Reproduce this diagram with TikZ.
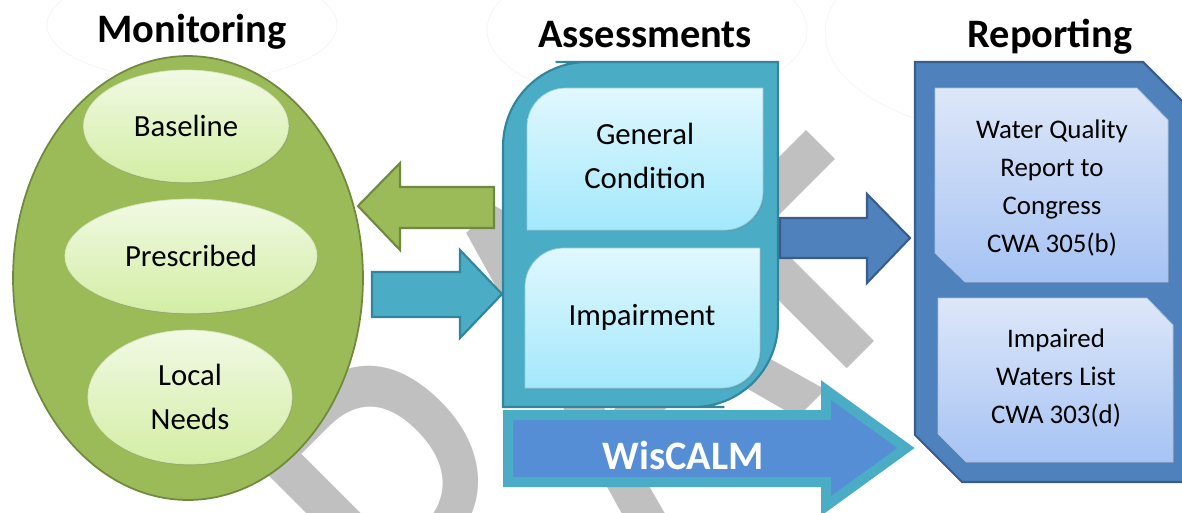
\documentclass[tikz,border=0pt]{standalone}
\usepackage{fontspec}
\setmainfont{Carlito}
\usetikzlibrary{shapes, calc, positioning, shadows}

\definecolor{mongreen}{HTML}{9BBB59}
\definecolor{mongreendark}{HTML}{71893F}
\definecolor{monlighttop}{HTML}{F1F9E4}
\definecolor{monlightbot}{HTML}{D3EEA4}
\definecolor{asmteal}{HTML}{4BACC6}
\definecolor{asmtealdark}{HTML}{31859C}
\definecolor{asmlighttop}{HTML}{E1F8FE}
\definecolor{asmlightbot}{HTML}{A3E8FC}
\definecolor{repblue}{HTML}{4F81BD}
\definecolor{repbluedark}{HTML}{385D8A}
\definecolor{replighttop}{HTML}{DDE7F8}
\definecolor{replightbot}{HTML}{A6C3F4}
\definecolor{wisblue}{HTML}{558ED5}
\definecolor{draftgray}{HTML}{C0C0C0}

\begin{document}
\begin{tikzpicture}[x=0.02cm, y=-0.02cm,
    title/.style={font=\fontsize{23}{26}\selectfont\bfseries, anchor=base},
    titlering/.style={fill=white, draw=black!4, line width=0.4pt},
    txt/.style={font=\fontsize{17.5}{25}\selectfont, align=center},
    reptxt/.style={font=\fontsize{15.3}{21.8}\selectfont, align=center},
    watermark/.style={text=draftgray, font=\fontsize{247}{247}\selectfont, inner sep=0pt},
    bigell/.style={ellipse, draw=mongreendark, fill=mongreen, line width=1pt, inner sep=0pt},
    smallell/.style={ellipse, draw=mongreen!40, top color=monlighttop, bottom color=monlightbot, inner sep=0pt, drop shadow={opacity=0.25, shadow xshift=0.6pt, shadow yshift=-0.8pt}},
    innerbox/.style={draw=asmteal!60, top color=asmlighttop, bottom color=asmlightbot, drop shadow={opacity=0.3, shadow xshift=0.6pt, shadow yshift=-0.8pt}},
    repbox/.style={draw=repblue!50, top color=replighttop, bottom color=replightbot, drop shadow={opacity=0.3, shadow xshift=0.6pt, shadow yshift=-0.8pt}},
    blockarrow/.style={line width=1.2pt, line join=miter},
    ]
    \useasboundingbox (0,0) rectangle (1182,512);
    \clip (0,0) rectangle (1182,512);

    % watermark, stretched along its height
    \begin{scope}[shift={(576.5,381.5)}, rotate=45, yscale=1.31, transform shape]
        \node[watermark] (draft) at (0,0) {DRAFT};
    \end{scope}

    % white rings behind the titles
    \draw[titlering] (192,25) ellipse (145 and 56);
    \draw[titlering] (647,30) ellipse (160 and 73);
    \draw[titlering] (1040,33) ellipse (215 and 105);

    % titles
    \node[title] (montitle) at (192,42) {Monitoring};
    \node[title] (asmtitle) at (645,47) {Assessments};
    \node[title] (reptitle) at (1050,47) {Reporting};

    % monitoring
    \node[bigell, minimum width=7cm, minimum height=8.88cm] (mon) at (188,278) {};
    \node[smallell, minimum width=4.1cm, minimum height=2.24cm, txt] (baseline) at (186,126) {Baseline};
    \node[smallell, minimum width=5.04cm, minimum height=2.28cm, txt] (prescribed) at (191,256) {Prescribed};
    \node[smallell, minimum width=4.08cm, minimum height=2.68cm, txt] (localneeds) at (190,397) {Local\\Needs};

    % assessments
    \draw[fill=asmteal, draw=asmtealdark, line width=1.2pt] (503,407) -- (503,250) [rounded corners=48] -- (503,62) -- (640,62) [sharp corners] -- (778,62) -- (778,250) [rounded corners=48] -- (778,407) -- (640,407) [sharp corners] -- cycle;
    \path[innerbox] (527,230) -- (527,160) [rounded corners=22] -- (527,88) -- (645,88) [sharp corners] -- (763,88) -- (763,160) [rounded corners=22] -- (763,230) -- (645,230) [sharp corners] -- cycle;
    \draw[innerbox] (525,388) -- (525,320) [rounded corners=22] -- (525,248) -- (642,248) [sharp corners] -- (760,248) -- (760,320) [rounded corners=22] -- (760,388) -- (642,388) [sharp corners] -- cycle;
    \node[txt] (general) at (645,156) {General\\Condition};
    \node[txt] (impairment) at (642,317) {Impairment};

    % reporting
    \draw[fill=repblue, draw=repbluedark, line width=1.2pt] (915,62) -- (1143,62) -- (1192,111) -- (1192,482) -- (962,482) -- (915,435) -- cycle;
    \draw[repbox] (935,88) -- (1137,88) -- (1168,120) -- (1168,282) -- (965,282) -- (935,253) -- cycle;
    \draw[repbox] (938,298) -- (1147,298) -- (1173,325) -- (1173,462) -- (966,462) -- (938,434) -- cycle;
    \node[reptxt] (report) at (1052,188) {Water Quality\\Report to\\Congress\\CWA 305(b)};
    \node[reptxt] (impaired) at (1056,378) {Impaired\\Waters List\\CWA 303(d)};

    % block arrows
    \draw[blockarrow, fill=mongreen, draw=mongreendark] (494,187) -- (400,187) -- (400,163) -- (358,206) -- (400,250) -- (400,228) -- (494,228) -- cycle;
    \draw[blockarrow, fill=asmteal, draw=asmtealdark] (372,272) -- (460,272) -- (460,250) -- (502,294) -- (460,338) -- (460,317) -- (372,317) -- cycle;
    \draw[blockarrow, fill=repblue, draw=repbluedark] (780,218) -- (867,218) -- (867,194) -- (910,238) -- (867,283) -- (867,258) -- (780,258) -- cycle;
    \draw[fill=wisblue, draw=asmteal, line width=5.7pt, line join=miter] (508,415) -- (826,415) -- (826,390) -- (906,448) -- (826,506) -- (826,482) -- (508,482) -- cycle;
    \node[font=\fontsize{23}{26}\selectfont\bfseries, text=white] (wiscalm) at (683,455) {WisCALM};
\end{tikzpicture}
\end{document}
